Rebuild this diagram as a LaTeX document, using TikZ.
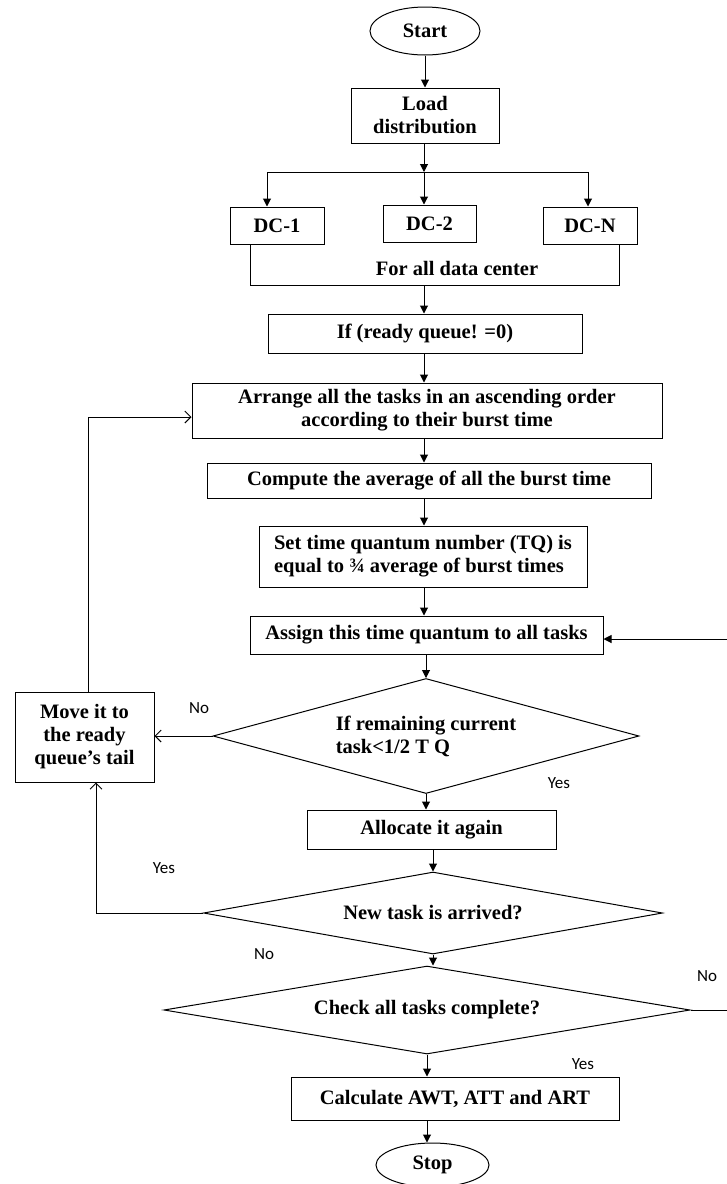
\documentclass[tikz,border=0pt]{standalone}
\usepackage{fontspec}
\setmainfont{Liberation Serif}
\newfontfamily\answerfont{Carlito}
\usetikzlibrary{shapes.geometric,arrows.meta}
\tikzset{box/.style={draw,line width=1pt,rectangle,inner sep=2pt,align=center,font=\bfseries\fontsize{20.5}{23}\selectfont}}
\tikzset{test/.style={draw,line width=1pt,diamond,inner sep=0pt,align=center,font=\bfseries\fontsize{20.5}{23}\selectfont}}
\tikzset{terminal/.style={draw,line width=1pt,ellipse,inner sep=0pt,font=\bfseries\fontsize{20.5}{23}\selectfont}}
\tikzset{flow/.style={line width=1pt,-{Triangle[length=8pt,width=8pt]}}}
\tikzset{back flow/.style={line width=1pt,-{Straight Barb[length=6pt,width=12pt]}}}
\tikzset{answer/.style={font=\answerfont\fontsize{17}{19}\selectfont,inner sep=0pt}}

\begin{document}
\begin{tikzpicture}[x=1pt,y=-1pt]
\useasboundingbox (0,0) rectangle (726,1184);

\node[terminal,minimum width=110pt,minimum height=48pt] (start) at (425,31) {Start};
\node[box,minimum width=148pt,minimum height=55pt] (load) at (425,115.5) {Load\\distribution};
\node[box,minimum width=94pt,minimum height=37pt] (dc1) at (277,225.5) {DC-1};
\node[box,minimum width=93pt,minimum height=37pt] (dc2) at (429.5,223.5) {DC-2};
\node[box,minimum width=94pt,minimum height=37pt] (dcn) at (590,225.5) {DC-N};
\node[box,draw=none] (forall) at (457,268) {For all data center};
\node[box,minimum width=314pt,minimum height=39pt] (ifq) at (425,333.5) {If (ready queue! =0)};
\node[box,minimum width=470pt,minimum height=55pt] (arrange) at (427,410.5) {Arrange all the tasks in an ascending order\\according to their burst time};
\node[box,minimum width=444pt,minimum height=35pt] (compute) at (429,480.5) {Compute the average of all the burst time};
\node[box,minimum width=328pt,minimum height=61pt,align=left] (settq) at (423,556.5) {Set time quantum number (TQ) is\\equal to ¾ average of burst times};
\node[box,minimum width=353pt,minimum height=38pt] (assign) at (426.5,635) {Assign this time quantum to all tasks};
\node[test,aspect=3.7,minimum width=426pt,minimum height=115pt,align=left] (dec1) at (426,736) {If remaining current\\task<1/2 T Q};
\node[box,minimum width=139pt,minimum height=90pt] (move) at (84.5,737) {Move it to\\the ready\\queue's tail};
\node[box,minimum width=249pt,minimum height=39pt] (alloc) at (431.5,829.5) {Allocate it again};
\node[test,aspect=5.6,minimum width=459pt,minimum height=82pt] (dec2) at (433,913) {New task is arrived?};
\node[test,aspect=6,minimum width=526pt,minimum height=88pt] (dec3) at (427,1010) {Check all tasks complete?};
\node[box,minimum width=328pt,minimum height=43pt] (calc) at (455,1098.5) {Calculate AWT, ATT and ART};
\node[terminal,minimum width=113pt,minimum height=44pt] (stop) at (432.5,1165) {Stop};

\node[answer] (no1) at (199,708) {No};
\node[answer] (yes1) at (559,783) {Yes};
\node[answer] (yes2) at (164,868) {Yes};
\node[answer] (no2) at (264,954) {No};
\node[answer] (no3) at (707,976) {No};
\node[answer] (yes3) at (583,1064) {Yes};

\coordinate (split) at (424,172);
\coordinate (splitL) at (267,172);
\coordinate (splitR) at (588,172);
\coordinate (join) at (424,285);
\coordinate (joinL) at (250,285);
\coordinate (joinR) at (619,285);
\coordinate (loopTop) at (88,417);
\coordinate (loopBot) at (96,913);
\coordinate (loopR) at (730,639);

\draw[flow] (start) -- (load);
\draw[flow] (load.south -| split) -- (split);
\draw[line width=1pt] (splitL) -- (splitR);
\draw[flow] (splitL) -- (splitL |- dc1.north);
\draw[flow] (split) -- (split |- dc2.north);
\draw[flow] (splitR) -- (splitR |- dcn.north);
\draw[line width=1pt] (dc1.south -| joinL) -- (joinL) -- (joinR) -- (dcn.south -| joinR);
\draw[flow] (join) -- (join |- ifq.north);
\draw[flow] (ifq.south -| split) -- (split |- arrange.north);
\draw[flow] (arrange.south -| split) -- (split |- compute.north);
\draw[flow] (compute.south -| split) -- (split |- settq.north);
\draw[flow] (settq.south -| split) -- (split |- assign.north);
\draw[flow] (assign.south -| dec1) -- (dec1.north);
\draw[flow] (dec1.south) -- (dec1.south |- alloc.north);
\draw[flow] (alloc.south -| dec2) -- (dec2.north);
\draw[flow] (dec2.south) -- (dec2.south |- dec3.north);
\draw[flow] (dec3.south) -- (dec3.south |- calc.north);
\draw[flow] (dec3.south |- calc.south) -- (dec3.south |- stop.north);
\draw[back flow] (dec1.west) -- (dec1.west -| move.east);
\draw[back flow] (move.north -| loopTop) -- (loopTop) -- (loopTop -| arrange.west);
\draw[back flow] (dec2.west) -- (dec2.west -| loopBot) -- (loopBot |- move.south);
\draw[flow] (dec3.east) -- (dec3.east -| loopR) -- (loopR) -- (loopR -| assign.east);

\end{tikzpicture}
\end{document}
